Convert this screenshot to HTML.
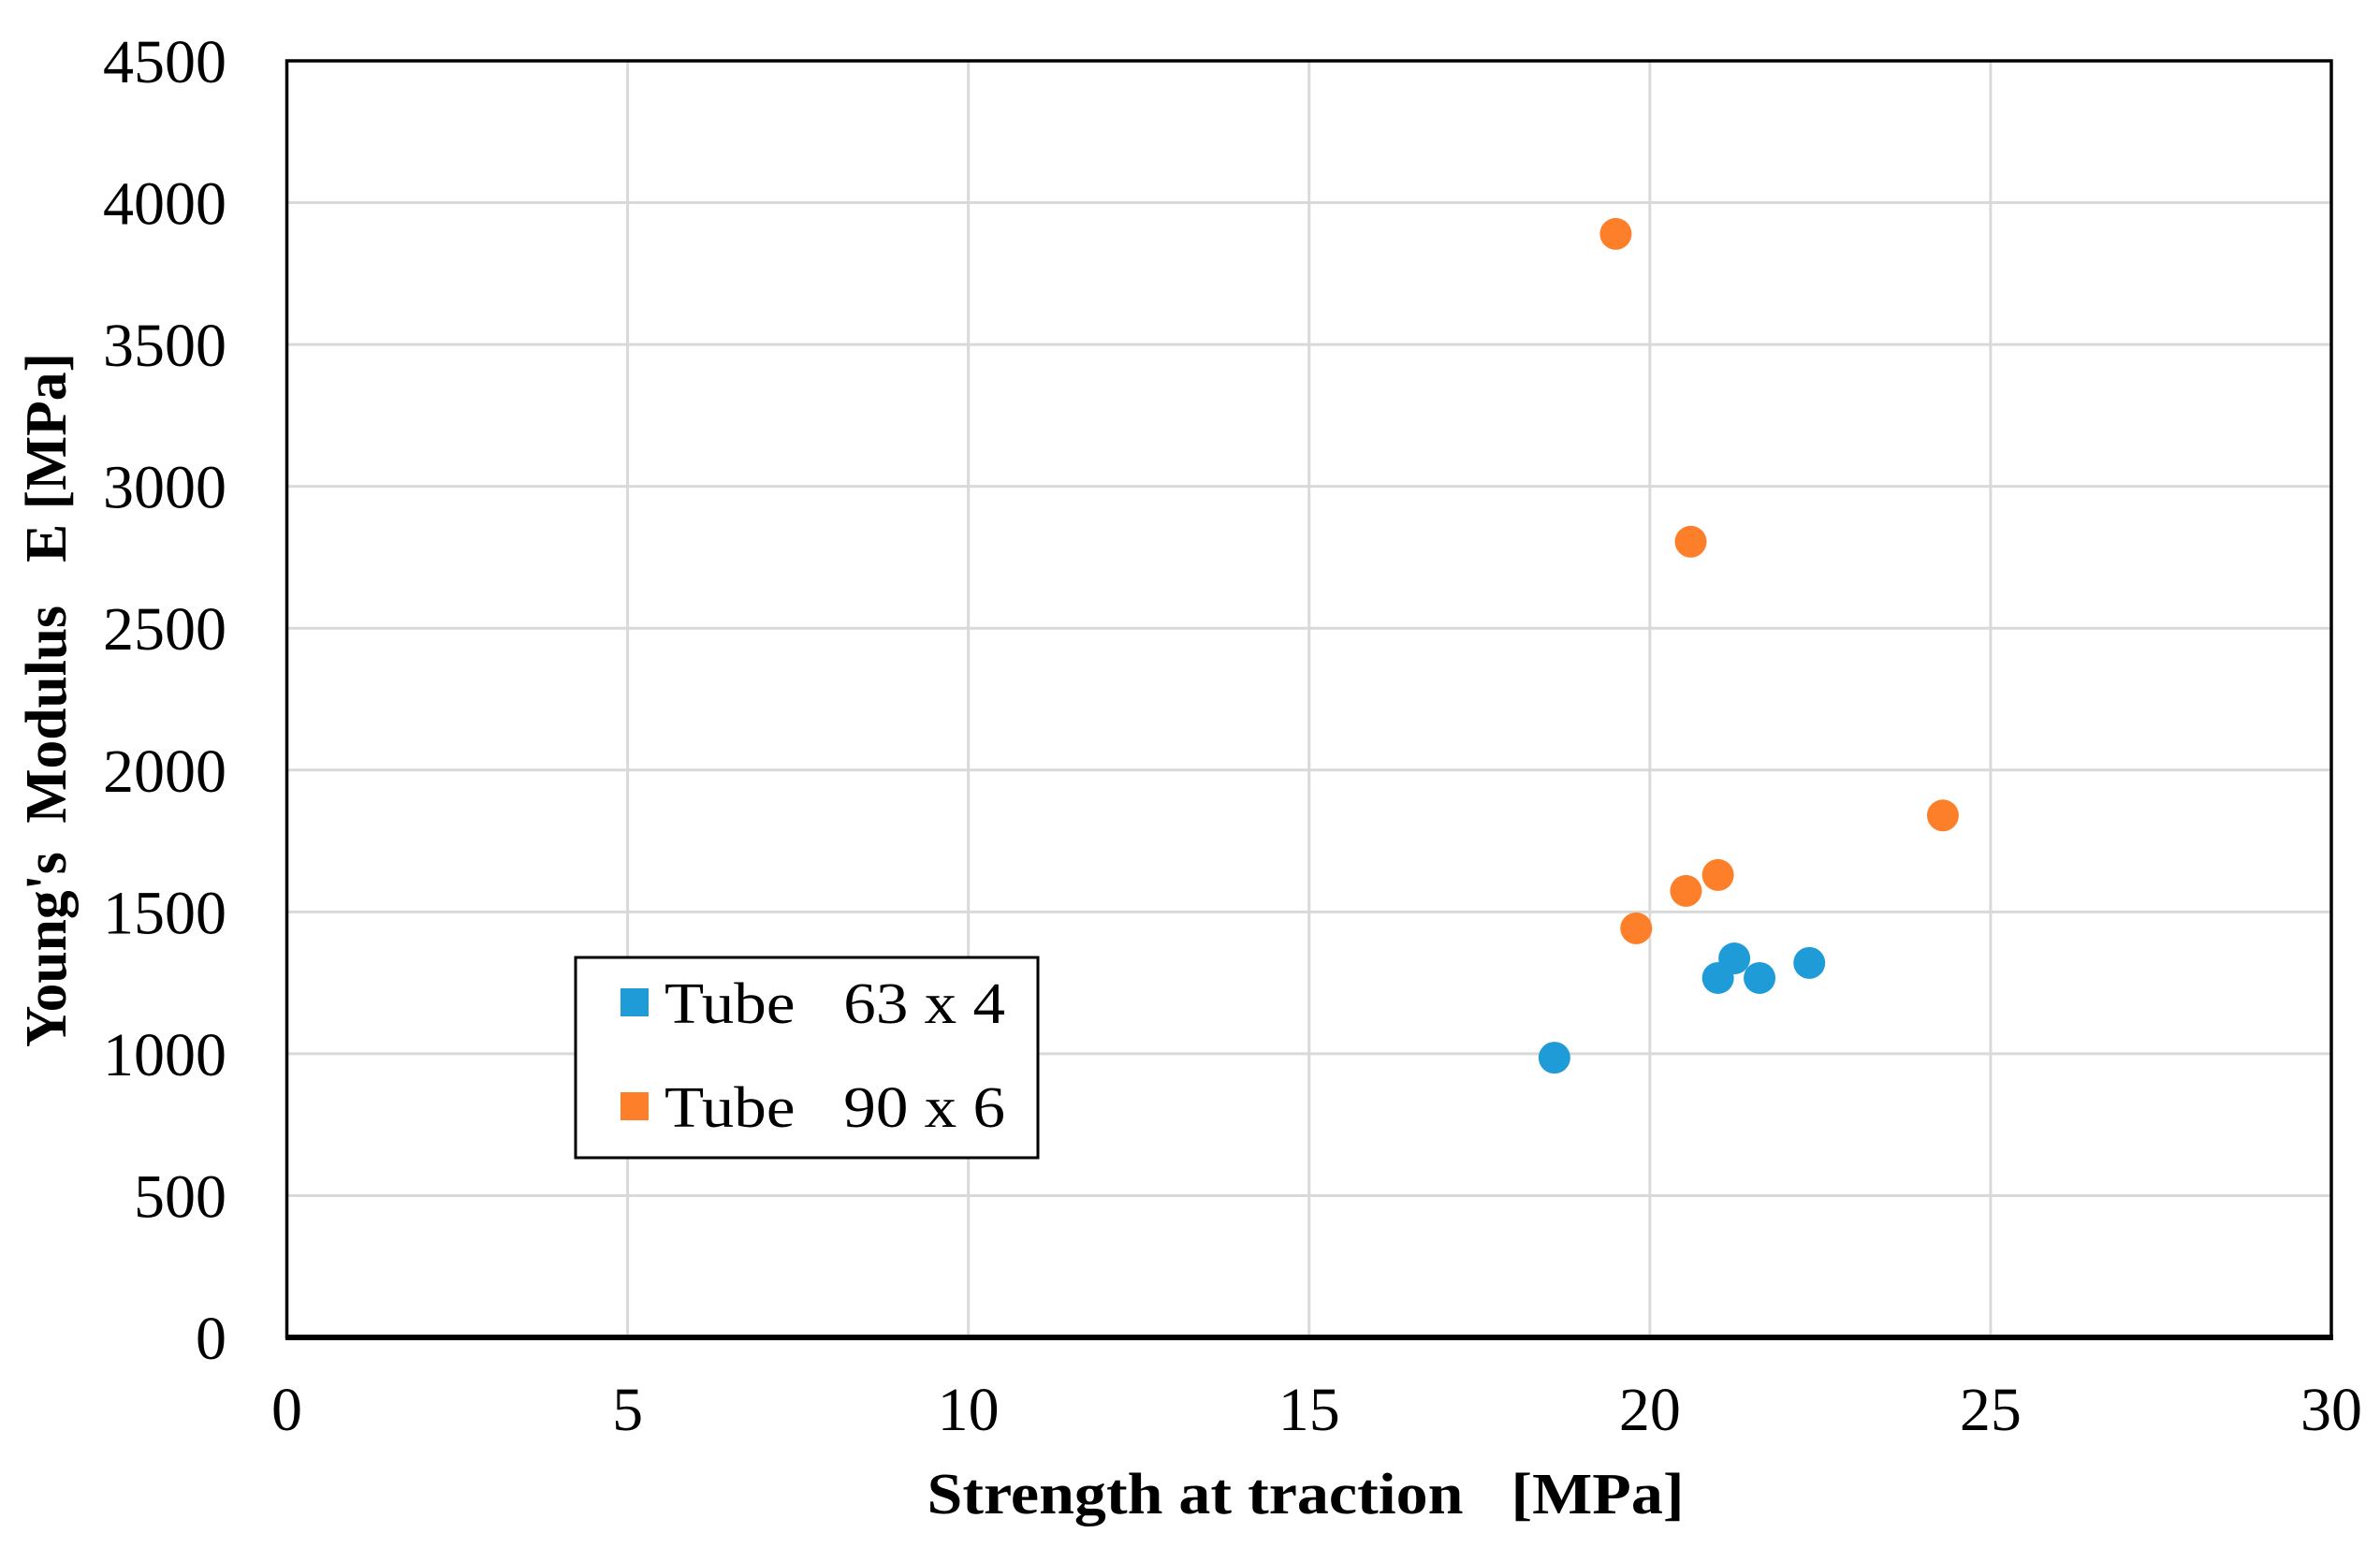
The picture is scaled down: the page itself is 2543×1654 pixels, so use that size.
<!DOCTYPE html>
<html><head><meta charset="utf-8"><style>
html,body{margin:0;padding:0;background:#fff;}
svg{display:block;font-family:"Liberation Serif",serif;}
text{white-space:pre;}
</style></head><body>
<svg id="chart" width="2543" height="1654" viewBox="0 0 2543 1654" xmlns="http://www.w3.org/2000/svg" xml:space="preserve">
<g id="grid"></g>
<g id="ticks"></g>
<g id="points"></g>
<rect x="306.5" y="65" width="2184.5" height="1364" fill="none" stroke="#000" stroke-width="3.5"/>
<line x1="305" y1="1429" x2="2493" y2="1429" stroke="#000" stroke-width="6"/>
<text transform="translate(70,748) rotate(-90)" text-anchor="middle" font-size="62" font-weight="bold" textLength="742" lengthAdjust="spacingAndGlyphs">Young's  Modulus   E [MPa]</text>
<text x="1395" y="1617" text-anchor="middle" font-size="62" font-weight="bold" textLength="809" lengthAdjust="spacingAndGlyphs">Strength at traction   [MPa]</text>
<g>
<rect x="615" y="1023" width="494" height="214" fill="#fff" stroke="#000" stroke-width="3"/>
<rect x="663" y="1056" width="30" height="30" fill="#1f9bd7"/>
<text x="710" y="1093" font-size="62" textLength="364" lengthAdjust="spacingAndGlyphs">Tube   63 x 4</text>
<rect x="663" y="1167" width="30" height="30" fill="#fe7f29"/>
<text x="710" y="1204" font-size="62" textLength="364" lengthAdjust="spacingAndGlyphs">Tube   90 x 6</text>
</g>
</svg>
<script>
const xTicks = [0, 5, 10, 15, 20, 25, 30];
const yTicks = [0, 500, 1000, 1500, 2000, 2500, 3000, 3500, 4000, 4500];
const tube63x = [18.6, 21.0, 21.24, 21.61, 22.34];
const tube63y = [986, 1267, 1336, 1267, 1320];
const tube90x = [19.5, 20.6, 24.3, 21.0, 20.53, 19.8];
const tube90y = [3890, 2805, 1840, 1630, 1574, 1442];

const L = 306.5, R = 2491, T = 65, B = 1429;
const sx = v => L + (v - 0) / 30 * (R - L);
const sy = v => B - (v - 0) / 4500 * (B - T);
const NS = "http://www.w3.org/2000/svg";
const grid = document.getElementById('grid');
const ticks = document.getElementById('ticks');
const pts = document.getElementById('points');
function mk(tag, attrs, parent) {
  const e = document.createElementNS(NS, tag);
  for (const k in attrs) e.setAttribute(k, attrs[k]);
  parent.appendChild(e);
  return e;
}
xTicks.forEach(t => {
  const g = mk('line', {x1: sx(t), x2: sx(t), y1: T, y2: B, stroke: '#d9d9d9', 'stroke-width': 3}, grid);
  
  
  const lb = mk('text', {x: sx(t), y: 1528, 'text-anchor': 'middle', 'font-size': 66}, ticks);
  lb.textContent = t;
  
  
});
yTicks.forEach(t => {
  const g = mk('line', {x1: L, x2: R, y1: sy(t), y2: sy(t), stroke: '#d9d9d9', 'stroke-width': 3}, grid);
  
  
  const lb = mk('text', {x: 242, y: sy(t) + 23, 'text-anchor': 'end', 'font-size': 66}, ticks);
  lb.textContent = t;
  
  
});
tube63x.forEach((x, i) => {
  const c = mk('circle', {cx: sx(x), cy: sy(tube63y[i]), r: 17, fill: '#1f9bd7'}, pts);
  
  
});
tube90x.forEach((x, i) => {
  const c = mk('circle', {cx: sx(x), cy: sy(tube90y[i]), r: 17, fill: '#fe7f29'}, pts);
  
  
});
</script>
</body></html>
